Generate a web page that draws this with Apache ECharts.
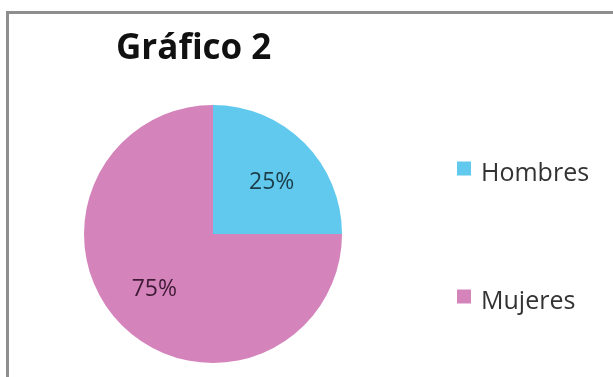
<!DOCTYPE html>
<html>
<head>
<meta charset="utf-8">
<script src="https://cdn.jsdelivr.net/npm/echarts@6/dist/echarts.min.js"></script>
<style>
html,body{margin:0;padding:0;background:#fff;}
#wrap{position:relative;width:613px;height:377px;overflow:hidden;background:#fff;}
#frame{position:absolute;left:6px;top:11px;width:640px;height:400px;border-left:3px solid #8e8e8e;border-top:3px solid #8e8e8e;box-sizing:border-box;}
#chart{position:absolute;left:0;top:0;width:613px;height:377px;}
</style>
</head>
<body>
<div id="wrap"><div id="frame"></div><div id="chart"></div></div>
<script>
const titleText = 'Gráfico 2';
const categories = ['Hombres', 'Mujeres'];
const values = [25, 75];
const sliceColors = ['#61C9EE', '#D584BB'];
const labelColors = ['#1c3d48', '#3e1a36'];

const chart = echarts.init(document.getElementById('chart'), null, {renderer: 'canvas'});
const pieData = categories.map((c, i) => ({name: c, value: values[i], itemStyle: {color: sliceColors[i]}}));
const labelData = categories.map((c, i) => ({name: c, value: values[i], label: {color: labelColors[i]}}));

chart.setOption({
  backgroundColor: 'transparent',
  animation: false,
  title: {
    text: titleText,
    left: 111,
    top: 27,
    textStyle: {fontFamily: 'Open Sans', fontWeight: 'bold', fontSize: 35, color: '#111'}
  },
  legend: {
    orient: 'vertical',
    left: 452,
    top: 156,
    itemWidth: 14,
    itemHeight: 14,
    itemGap: 103,
    icon: 'rect',
    data: categories,
    formatter: function (name) { return '{t|' + name + '}'; },
    textStyle: {
      fontFamily: 'Open Sans', fontSize: 25, color: '#333',
      rich: {t: {fontFamily: 'Open Sans', fontSize: 25, color: '#333', padding: [10, 0, 0, 5]}}
    }
  },
  series: [
    {
      type: 'pie',
      center: [213, 234],
      radius: [0, 129],
      startAngle: 90,
      clockwise: true,
      label: {show: false},
      labelLine: {show: false},
      silent: true,
      data: pieData
    },
    {
      type: 'pie',
      center: [213, 234],
      radius: [0, 160],
      startAngle: 90,
      clockwise: true,
      itemStyle: {color: 'rgba(0,0,0,0)'},
      label: {show: true, position: 'inside', formatter: '{d}%', fontFamily: 'Open Sans', fontSize: 23},
      labelLayout: function (params) { return {dy: params.dataIndex === 0 ? 7 : -3}; },
      labelLine: {show: false},
      silent: true,
      legendHoverLink: false,
      data: labelData
    }
  ]
});
</script>
</body>
</html>
